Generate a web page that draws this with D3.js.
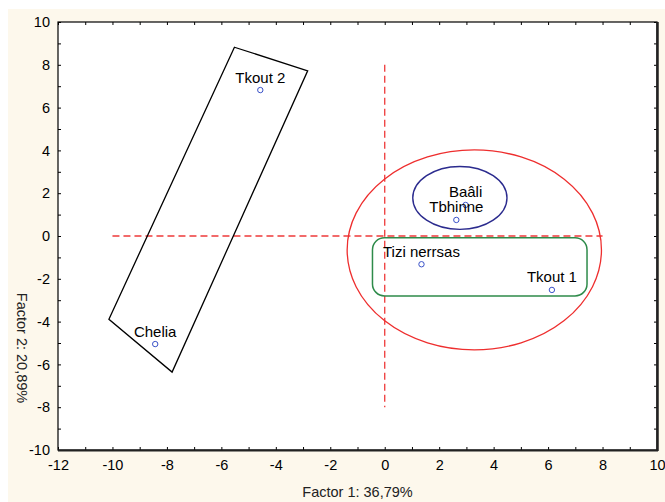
<!DOCTYPE html>
<html>
<head>
<meta charset="utf-8">
<script src="https://cdn.jsdelivr.net/npm/d3@7/dist/d3.min.js"></script>
<style>
  html, body { margin: 0; padding: 0; background: #ffffff; }
  svg { display: block; font-family: Arial, "Liberation Sans", sans-serif; }
</style>
</head>
<body>
<svg id="chart" width="665" height="502"></svg>
<script>
// ---- data ----
const pointNames = ["Tkout 2", "Chelia", "Baâli", "Tbhinne", "Tizi nerrsas", "Tkout 1"];
const factor1 = [-4.57, -8.43, 2.97, 2.63, 1.35, 6.14];
const factor2 = [6.82, -5.05, 1.45, 0.75, -1.32, -2.52];

const xTicks = [-12, -10, -8, -6, -4, -2, 0, 2, 4, 6, 8, 10];
const yTicks = [-10, -8, -6, -4, -2, 0, 2, 4, 6, 8, 10];
const xTitle = "Factor 1: 36,79%";
const yTitle = "Factor 2: 20,89%";

// grouping shapes (data coordinates)
const blackPolygon = [[-5.52, 8.82], [-2.83, 7.72], [-7.81, -6.36], [-10.13, -3.89]];
const redEllipse = { cx: 3.29, cy: -0.65, rx: 4.67, ry: 4.67 };
const blueEllipse = { cx: 2.76, cy: 1.78, rx: 1.73, ry: 1.47 };
const greenBox = { x0: -0.45, x1: 7.43, y0: -0.08, y1: -2.80 };
const hLine = { x0: -10, x1: 8, y: 0 };
const vLine = { x: 0, y0: 8, y1: -8 };

// ---- layout ----
const svg = d3.select("#chart");
const L = 58, R = 657, T = 22, B = 450;
const x = d3.scaleLinear().domain([-12, 10]).range([L, R]);
const y = d3.scaleLinear().domain([-10, 10]).range([B, T]);

// cream panel
svg.append("rect").attr("x", 8).attr("y", 9).attr("width", 657).attr("height", 493)
  .attr("fill", "#fdf8ec");
// plot area
svg.append("rect").attr("x", L).attr("y", T).attr("width", R - L).attr("height", B - T)
  .attr("fill", "#ffffff");

const minorX = d3.range(-12, 11, 1);
const minorY = d3.range(-10, 11, 1);

// inward ticks on all four sides
svg.append("g").attr("transform", `translate(0,${B})`)
  .call(d3.axisBottom(x).tickValues(minorX).tickSize(-3).tickFormat(""))
  .call(g => g.select(".domain").remove())
  .call(g => g.selectAll("line").attr("stroke", "#000"));
svg.append("g").attr("transform", `translate(0,${T})`)
  .call(d3.axisTop(x).tickValues(minorX).tickSize(-3).tickFormat(""))
  .call(g => g.select(".domain").remove())
  .call(g => g.selectAll("line").attr("stroke", "#000"));
svg.append("g").attr("transform", `translate(${L},0)`)
  .call(d3.axisLeft(y).tickValues(minorY).tickSize(-3).tickFormat(""))
  .call(g => g.select(".domain").remove())
  .call(g => g.selectAll("line").attr("stroke", "#000"));
svg.append("g").attr("transform", `translate(${R},0)`)
  .call(d3.axisRight(y).tickValues(minorY).tickSize(-3).tickFormat(""))
  .call(g => g.select(".domain").remove())
  .call(g => g.selectAll("line").attr("stroke", "#000"));

// tick labels
svg.append("g").attr("transform", `translate(0,${B})`)
  .call(d3.axisBottom(x).tickValues(xTicks).tickSize(0).tickPadding(10).tickFormat(d => String(d)))
  .call(g => g.select(".domain").remove())
  .call(g => g.selectAll("text").attr("font-size", 14.5).attr("fill", "#000")
    .attr("font-family", "Arial, 'Liberation Sans', sans-serif"));
svg.append("g").attr("transform", `translate(${L},0)`)
  .call(d3.axisLeft(y).tickValues(yTicks).tickSize(0).tickPadding(8).tickFormat(d => String(d)))
  .call(g => g.select(".domain").remove())
  .call(g => g.selectAll("text").attr("font-size", 14.5).attr("fill", "#000")
    .attr("font-family", "Arial, 'Liberation Sans', sans-serif"));

// frame
svg.append("rect").attr("x", L).attr("y", T).attr("width", R - L).attr("height", B - T)
  .attr("fill", "none").attr("stroke", "#000").attr("stroke-width", 1.2);
svg.append("line").attr("x1", R + 0.5).attr("x2", R + 0.5).attr("y1", T).attr("y2", B + 1)
  .attr("stroke", "#222").attr("stroke-width", 2.5);
svg.append("line").attr("x1", L).attr("x2", R + 1).attr("y1", B + 0.5).attr("y2", B + 0.5)
  .attr("stroke", "#222").attr("stroke-width", 1.8);

// axis titles
svg.append("text").attr("x", (L + R) / 2).attr("y", 497).attr("text-anchor", "middle")
  .attr("font-size", 14.5).attr("fill", "#222").text(xTitle);
svg.append("text").attr("transform", "translate(17,348) rotate(90)").attr("text-anchor", "middle")
  .attr("font-size", 14.5).attr("fill", "#222").text(yTitle);

// dashed reference lines
svg.append("line").attr("x1", x(hLine.x0)).attr("x2", x(hLine.x1))
  .attr("y1", y(hLine.y)).attr("y2", y(hLine.y))
  .attr("stroke", "#ee3a3a").attr("stroke-width", 1.3).attr("stroke-dasharray", "7,4");
svg.append("line").attr("x1", x(vLine.x)).attr("x2", x(vLine.x))
  .attr("y1", y(vLine.y0)).attr("y2", y(vLine.y1))
  .attr("stroke", "#ee3a3a").attr("stroke-width", 1.3).attr("stroke-dasharray", "7,4");

// black polygon
svg.append("path")
  .attr("d", d3.line().x(d => x(d[0])).y(d => y(d[1])).curve(d3.curveLinearClosed)(blackPolygon))
  .attr("fill", "none").attr("stroke", "#000").attr("stroke-width", 1.3);

// red ellipse
svg.append("ellipse")
  .attr("cx", x(redEllipse.cx)).attr("cy", y(redEllipse.cy))
  .attr("rx", x(redEllipse.rx) - x(0)).attr("ry", y(0) - y(redEllipse.ry))
  .attr("fill", "none").attr("stroke", "#ee2e2e").attr("stroke-width", 1.3);

// blue ellipse
svg.append("ellipse")
  .attr("cx", x(blueEllipse.cx)).attr("cy", y(blueEllipse.cy))
  .attr("rx", x(blueEllipse.rx) - x(0)).attr("ry", y(0) - y(blueEllipse.ry))
  .attr("fill", "none").attr("stroke", "#2b2b8e").attr("stroke-width", 1.4);

// green rounded box
svg.append("rect")
  .attr("x", x(greenBox.x0)).attr("y", y(greenBox.y0))
  .attr("width", x(greenBox.x1) - x(greenBox.x0)).attr("height", y(greenBox.y1) - y(greenBox.y0))
  .attr("rx", 12).attr("ry", 12)
  .attr("fill", "none").attr("stroke", "#2e8b4a").attr("stroke-width", 1.5);

// points and labels
const pts = pointNames.map((n, i) => ({ name: n, f1: factor1[i], f2: factor2[i] }));
svg.append("g").selectAll("circle").data(pts).join("circle")
  .attr("cx", d => x(d.f1)).attr("cy", d => y(d.f2)).attr("r", 2.7)
  .attr("fill", "none").attr("stroke", "#3a52c8").attr("stroke-width", 1);
svg.append("g").selectAll("text").data(pts).join("text")
  .attr("x", d => x(d.f1)).attr("y", d => y(d.f2) - 7.5)
  .attr("text-anchor", "middle").attr("font-size", 15).attr("fill", "#000")
  .text(d => d.name);
</script>
</body>
</html>
